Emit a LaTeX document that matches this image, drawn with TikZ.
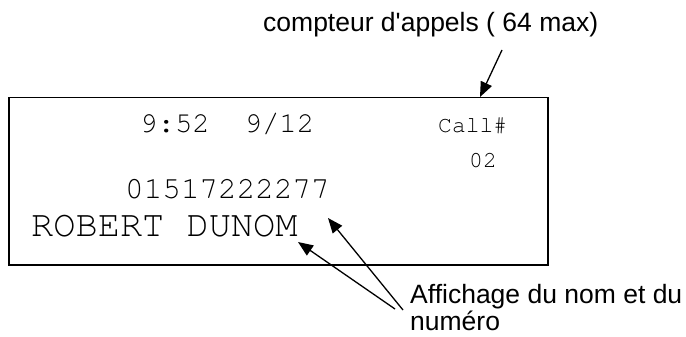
\documentclass[tikz,border=0pt]{standalone}
\usepackage{fontspec}
\setmainfont{Liberation Sans}[Ligatures=TeXOff]
\newfontfamily\lcdfont{TeX Gyre Cursor}
\usepackage{tikz}
\usetikzlibrary{positioning, arrows.meta}

\begin{document}
\begin{tikzpicture}[
  x=1pt, y=-1pt,
  lcdbox/.style={
    draw=black, line width=1.5pt, rectangle, inner sep=0pt,
    minimum width=539pt, minimum height=167pt, anchor=north west
  },
  lcdtext/.style={inner sep=0pt, anchor=base west, font=\lcdfont},
  note/.style={inner sep=0pt, anchor=base west,
    font=\fontsize{26.5}{27}\selectfont, align=left},
  pointer/.style={-{Triangle[length=15pt,width=12pt]}, line width=1.3pt, black}
]
\useasboundingbox (0,0) rectangle (686,337);

% ecran
\node[lcdbox] (lcd) at (8,97) {};

\node[lcdtext, font=\lcdfont\fontsize{29}{30}\selectfont] (clock) at (140,132) {9:52\ \ 9/12};
\node[lcdtext, font=\lcdfont\fontsize{23}{24}\selectfont] (calltag) at (438,132) {Call\#};
\node[lcdtext, font=\lcdfont\fontsize{23}{24}\selectfont] (callnum) at (469,167) {02};
\node[lcdtext, font=\lcdfont\fontsize{31}{32}\selectfont] (phone) at (125,198) {01517222277};
\node[lcdtext, font=\lcdfont\fontsize{37}{38}\selectfont] (caller) at (31,236) {ROBERT DUNOM};

% legendes
\node[note] (cntnote) at (263,32) {compteur d'appels ( 64 max)};
\node[note] (shownote) at (410,330) {Affichage du nom et du\\numéro};

\coordinate (cnttail) at (502,50);
\coordinate (cnttip) at (480,97);
\coordinate (nametail) at (395,309);
\coordinate (nametip) at (298,242);
\coordinate (numtail) at (403,310);
\coordinate (numtip) at (328,218);

\draw[pointer] (cnttail) -- (cnttip);
\draw[pointer] (nametail) -- (nametip);
\draw[pointer] (numtail) -- (numtip);

\end{tikzpicture}
\end{document}
